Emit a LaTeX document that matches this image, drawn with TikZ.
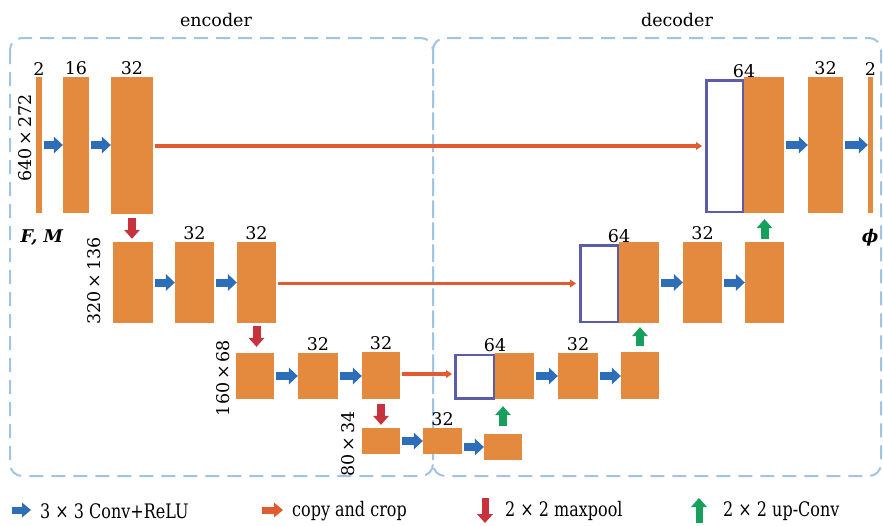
\documentclass[tikz,border=0pt]{standalone}
\usepackage{fontspec}
\setmainfont{DejaVu Serif}
\newfontfamily\legfont[FakeStretch=0.8]{DejaVu Serif}
\usetikzlibrary{arrows.meta}
\definecolor{blkc}{RGB}{228,138,62}
\definecolor{convc}{RGB}{46,110,185}
\definecolor{copyc}{RGB}{227,90,48}
\definecolor{poolc}{RGB}{200,50,60}
\definecolor{upc}{RGB}{22,160,92}
\definecolor{purc}{RGB}{92,92,168}
\definecolor{dashc}{RGB}{160,195,232}
\tikzset{
  blk/.style={fill=blkc, draw=none, inner sep=0pt},
  wbox/.style={fill=white, draw=purc, line width=2.5pt, inner sep=0pt},
  lab/.style={font=\fontsize{17.5}{20}\selectfont, inner sep=1.5pt},
  leg/.style={font=\legfont\fontsize{20}{22}\selectfont, inner sep=0pt, anchor=west},
  conv/.style={draw=convc, line width=8pt, -{Triangle[length=9pt,width=17pt,line width=0pt]}},
  convl/.style={draw=convc, line width=7pt, -{Triangle[length=9pt,width=15pt,line width=0pt]}},
  copyl/.style={draw=copyc, line width=3.5pt, -{Triangle[length=6pt,width=8pt,line width=0pt]}},
  copyleg/.style={draw=copyc, line width=7pt, -{Triangle[length=9pt,width=15pt,line width=0pt]}},
  pool/.style={draw=poolc, line width=8pt, -{Triangle[length=9pt,width=16pt,line width=0pt]}},
  upconv/.style={draw=upc, line width=8pt, -{Triangle[length=9pt,width=16pt,line width=0pt]}},
  region/.style={draw=dashc, line width=2pt, dash pattern=on 14pt off 8pt, rounded corners=12pt},
}
\begin{document}
\begin{tikzpicture}[x=1pt,y=-1pt]
\useasboundingbox (0,0) rectangle (883,525);
% regions
\draw[region] (10,38) rectangle (433,476);
\draw[region] (433,38) rectangle (881,476);
\node[lab] (tenc) at (216,20) {encoder};
\node[lab] (tdec) at (677,20) {decoder};
% encoder blocks
\node[blk, minimum width=6pt, minimum height=136pt] (e1a) at (39,145) {};
\node[blk, minimum width=26pt, minimum height=136pt] (e1b) at (76,145) {};
\node[blk, minimum width=42pt, minimum height=137pt] (e1c) at (132,145.5) {};
\node[blk, minimum width=40pt, minimum height=81pt] (e2a) at (133,282.5) {};
\node[blk, minimum width=39pt, minimum height=81pt] (e2b) at (194.5,282.5) {};
\node[blk, minimum width=39pt, minimum height=81pt] (e2c) at (256.5,282.5) {};
\node[blk, minimum width=38pt, minimum height=46pt] (e3a) at (255,376) {};
\node[blk, minimum width=40pt, minimum height=46pt] (e3b) at (318,376) {};
\node[blk, minimum width=38pt, minimum height=47pt] (e3c) at (381,375.5) {};
\node[blk, minimum width=38pt, minimum height=26pt] (e4a) at (381,441) {};
\node[blk, minimum width=39pt, minimum height=26pt] (e4b) at (442.5,441) {};
\node[blk, minimum width=38pt, minimum height=26pt] (d4) at (503,447) {};
% decoder blocks
\node[wbox, minimum width=38.5pt, minimum height=43.5pt] (d3w) at (474.5,376.5) {};
\node[blk, minimum width=39pt, minimum height=46pt] (d3o) at (514.5,376) {};
\node[blk, minimum width=40pt, minimum height=46pt] (d3b) at (578,376) {};
\node[blk, minimum width=38pt, minimum height=47pt] (d3c) at (640,375.5) {};
\node[wbox, minimum width=37.5pt, minimum height=76.5pt] (d2w) at (599,283.5) {};
\node[blk, minimum width=40pt, minimum height=81pt] (d2o) at (639,282.5) {};
\node[blk, minimum width=39pt, minimum height=81pt] (d2b) at (702.5,282.5) {};
\node[blk, minimum width=39pt, minimum height=81pt] (d2c) at (764.5,282.5) {};
\node[wbox, minimum width=36.5pt, minimum height=131.5pt] (d1w) at (724.5,146) {};
\node[blk, minimum width=40pt, minimum height=136pt] (d1o) at (764,145) {};
\node[blk, minimum width=35pt, minimum height=136pt] (d1b) at (825.5,145) {};
\node[blk, minimum width=5pt, minimum height=136pt] (d1c) at (870.5,145) {};
% channel labels
\node[lab, anchor=south] (l1) at (e1a.north) {2};
\node[lab, anchor=south] (l2) at (e1b.north) {16};
\node[lab, anchor=south] (l3) at (e1c.north) {32};
\node[lab, anchor=south] (l4) at (e2b.north) {32};
\node[lab, anchor=south] (l5) at (e2c.north) {32};
\node[lab, anchor=south] (l6) at (e3b.north) {32};
\node[lab, anchor=south] (l7) at (e3c.north) {32};
\node[lab, anchor=south] (l8) at (e4b.north) {32};
\node[lab, anchor=south] (l9) at (d3w.north east) {64};
\node[lab, anchor=south] (l10) at (d3b.north) {32};
\node[lab, anchor=south] (l11) at (d2w.north east) {64};
\node[lab, anchor=south] (l12) at (d2b.north) {32};
\node[lab, anchor=south] (l13) at (d1w.north east) {64};
\node[lab, anchor=south] (l14) at (d1b.north) {32};
\node[lab, anchor=south] (l15) at (d1c.north) {2};
% size labels
\node[lab, rotate=90] (s1) at (25,138) {640\,×\,272};
\node[lab, rotate=90] (s2) at (94,281) {320\,×\,136};
\node[lab, rotate=90] (s3) at (223,378) {160\,×\,68};
\node[lab, rotate=90] (s4) at (348,444) {80\,×\,34};
\node[lab] (fm) at (42,238) {\textbf{\textit{F, M}}};
\node[lab] (phi) at (870,238) {\textbf{\textit{ϕ}}};
% conv arrows
\draw[conv, shorten <=2pt] (e1a) -- (e1b);
\draw[conv, shorten <=2pt] (e1b.east) -- (e1b.east -| e1c.west);
\draw[conv, shorten <=2pt] (e2a) -- (e2b);
\draw[conv, shorten <=2pt] (e2b) -- (e2c);
\draw[conv, shorten <=2pt] (e3a) -- (e3b);
\draw[conv, shorten <=2pt] (e3b.east) -- (e3b.east -| e3c.west);
\draw[conv, shorten <=2pt] (e4a) -- (e4b);
\draw[conv, shorten <=2pt] (e4b.east |- d4.west) -- (d4.west);
\draw[conv, shorten <=2pt] (d3o) -- (d3b);
\draw[conv, shorten <=2pt] (d3b.east) -- (d3b.east -| d3c.west);
\draw[conv, shorten <=2pt] (d2o) -- (d2b);
\draw[conv, shorten <=2pt] (d2b) -- (d2c);
\draw[conv, shorten <=2pt] (d1o) -- (d1b);
\draw[conv, shorten <=2pt] (d1b) -- (d1c);
% copy and crop
\draw[copyl, shorten <=2pt, shorten >=3pt] (e1c.east |- d1w.west) -- (d1w.west);
\draw[copyl, shorten <=2pt, shorten >=3pt] (e2c.east |- d2w.west) -- (d2w.west);
\draw[copyl, shorten <=2pt, shorten >=2pt] (e3c.east |- 0,374) -- (d3w.west |- 0,374);
% max pool
\draw[pool, shorten <=4pt, shorten >=3pt] (e1c.south) -- (e1c.south |- e2a.north);
\draw[pool, shorten <=3pt, shorten >=6pt] (e2c.south) -- (e2c.south |- e3a.north);
\draw[pool, shorten <=5pt, shorten >=3pt] (e3c.south) -- (e3c.south |- e4a.north);
% up conv
\draw[upconv, shorten <=8pt, shorten >=7pt] (d4.north) -- (d4.north |- d3o.south);
\draw[upconv, shorten <=6pt, shorten >=4pt] (d3c.north) -- (d3c.north |- d2o.south);
\draw[upconv, shorten <=3pt, shorten >=6pt] (d2c.north) -- (d2c.north |- d1o.south);
% legend
\coordinate (a1s) at (12,510); \coordinate (a1e) at (31,510);
\coordinate (a2s) at (262,510); \coordinate (a2e) at (283,510);
\coordinate (a3s) at (485,498); \coordinate (a3e) at (485,523);
\coordinate (a4s) at (699,523); \coordinate (a4e) at (699,498);
\draw[convl] (a1s) -- (a1e);
\draw[copyleg] (a2s) -- (a2e);
\draw[pool, line width=7pt] (a3s) -- (a3e);
\draw[upconv, line width=7pt] (a4s) -- (a4e);
\node[leg] (g1) at (40,511) {3 × 3 Conv+ReLU};
\node[leg] (g2) at (292,511) {copy and crop};
\node[leg] (g3) at (505,511) {2 × 2 maxpool};
\node[leg] (g4) at (723,511) {2 × 2 up-Conv};
\end{tikzpicture}
\end{document}
